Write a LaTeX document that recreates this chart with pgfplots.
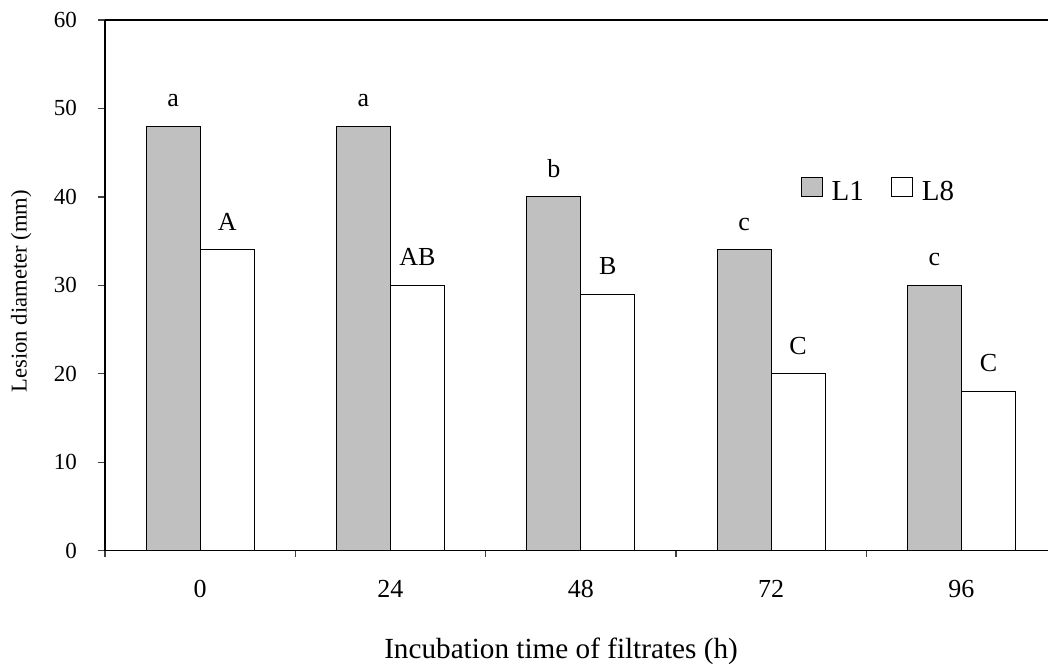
\documentclass[border=0pt]{standalone}
\usepackage{fontspec}
\setmainfont{Liberation Serif}
\usepackage{pgfplots}
\pgfplotsset{compat=1.18}

\definecolor{barGray}{HTML}{C0C0C0}

\begin{document}
\begin{tikzpicture}
\begin{axis}[
  at={(0,0)}, anchor=south west,
  scale only axis,
  width=471.5pt, height=265.35pt,
  xmin=-0.5, xmax=4.455,
  ymin=0, ymax=60,
  axis x line*=box, axis y line*=left,
  axis line style={line width=0.75pt, black},
  ybar,
  bar width=0.284,
  xtick={0,1,2,3,4},
  xticklabels={0,24,48,72,96},
  major x tick style={draw=none},
  minor xtick={-0.5,0.5,1.5,2.5,3.5},
  xtick pos=lower,
  ytick={0,10,...,60},
  ytick pos=left,
  tick align=outside,
  major tick length=3.5pt,
  minor tick length=3pt,
  tick style={line width=0.6pt, black!75},
  /pgf/number format/assume math mode=true,
  xticklabel style={font=\fontsize{13}{15}\selectfont, text height=9pt,
                    text depth=0pt, yshift=-7.5pt},
  yticklabel style={font=\fontsize{11.5}{13}\selectfont, xshift=-7pt},
  xlabel={Incubation time of filtrates (h)},
  xlabel style={at={(rel axis cs:0.4836,-0.2024)}, anchor=base,
                font=\fontsize{14.6}{16}\selectfont},
  ylabel={Lesion diameter (mm)},
  ylabel style={at={(rel axis cs:-0.0831,0.489)}, anchor=base,
                font=\fontsize{11.3}{13}\selectfont},
  point meta=explicit symbolic,
  nodes near coords,
  nodes near coords style={anchor=base, yshift=9.8pt, black,
                           font=\fontsize{13}{15}\selectfont},
  legend columns=2,
  legend style={draw=none, fill=none, at={(rel axis cs:0.731,0.676)}, anchor=west,
                font=\fontsize{14.5}{16}\selectfont,
                /tikz/every even column/.append style={column sep=9pt},
                nodes={inner xsep=4.5pt}},
  legend image code/.code={\draw[#1, line width=0.5pt] (0pt,-2pt) rectangle (10.5pt,7.5pt);},
]
\addplot[fill=barGray, draw=black, line width=0.5pt, bar shift=-0.142]
  coordinates {(0,48) [a] (1,48) [a] (2,40) [b] (3,34) [c] (4,30) [c]};
\addlegendentry{L1}
\addplot[fill=white, draw=black, line width=0.5pt, bar shift=0.142]
  coordinates {(0,34) [A] (1,30) [AB] (2,29) [B] (3,20) [C] (4,18) [C]};
\addlegendentry{L8}
\end{axis}
\pgfresetboundingbox
\useasboundingbox (-52.5pt,-57.15pt) rectangle (471.5pt,275.35pt);
\end{tikzpicture}
\end{document}
